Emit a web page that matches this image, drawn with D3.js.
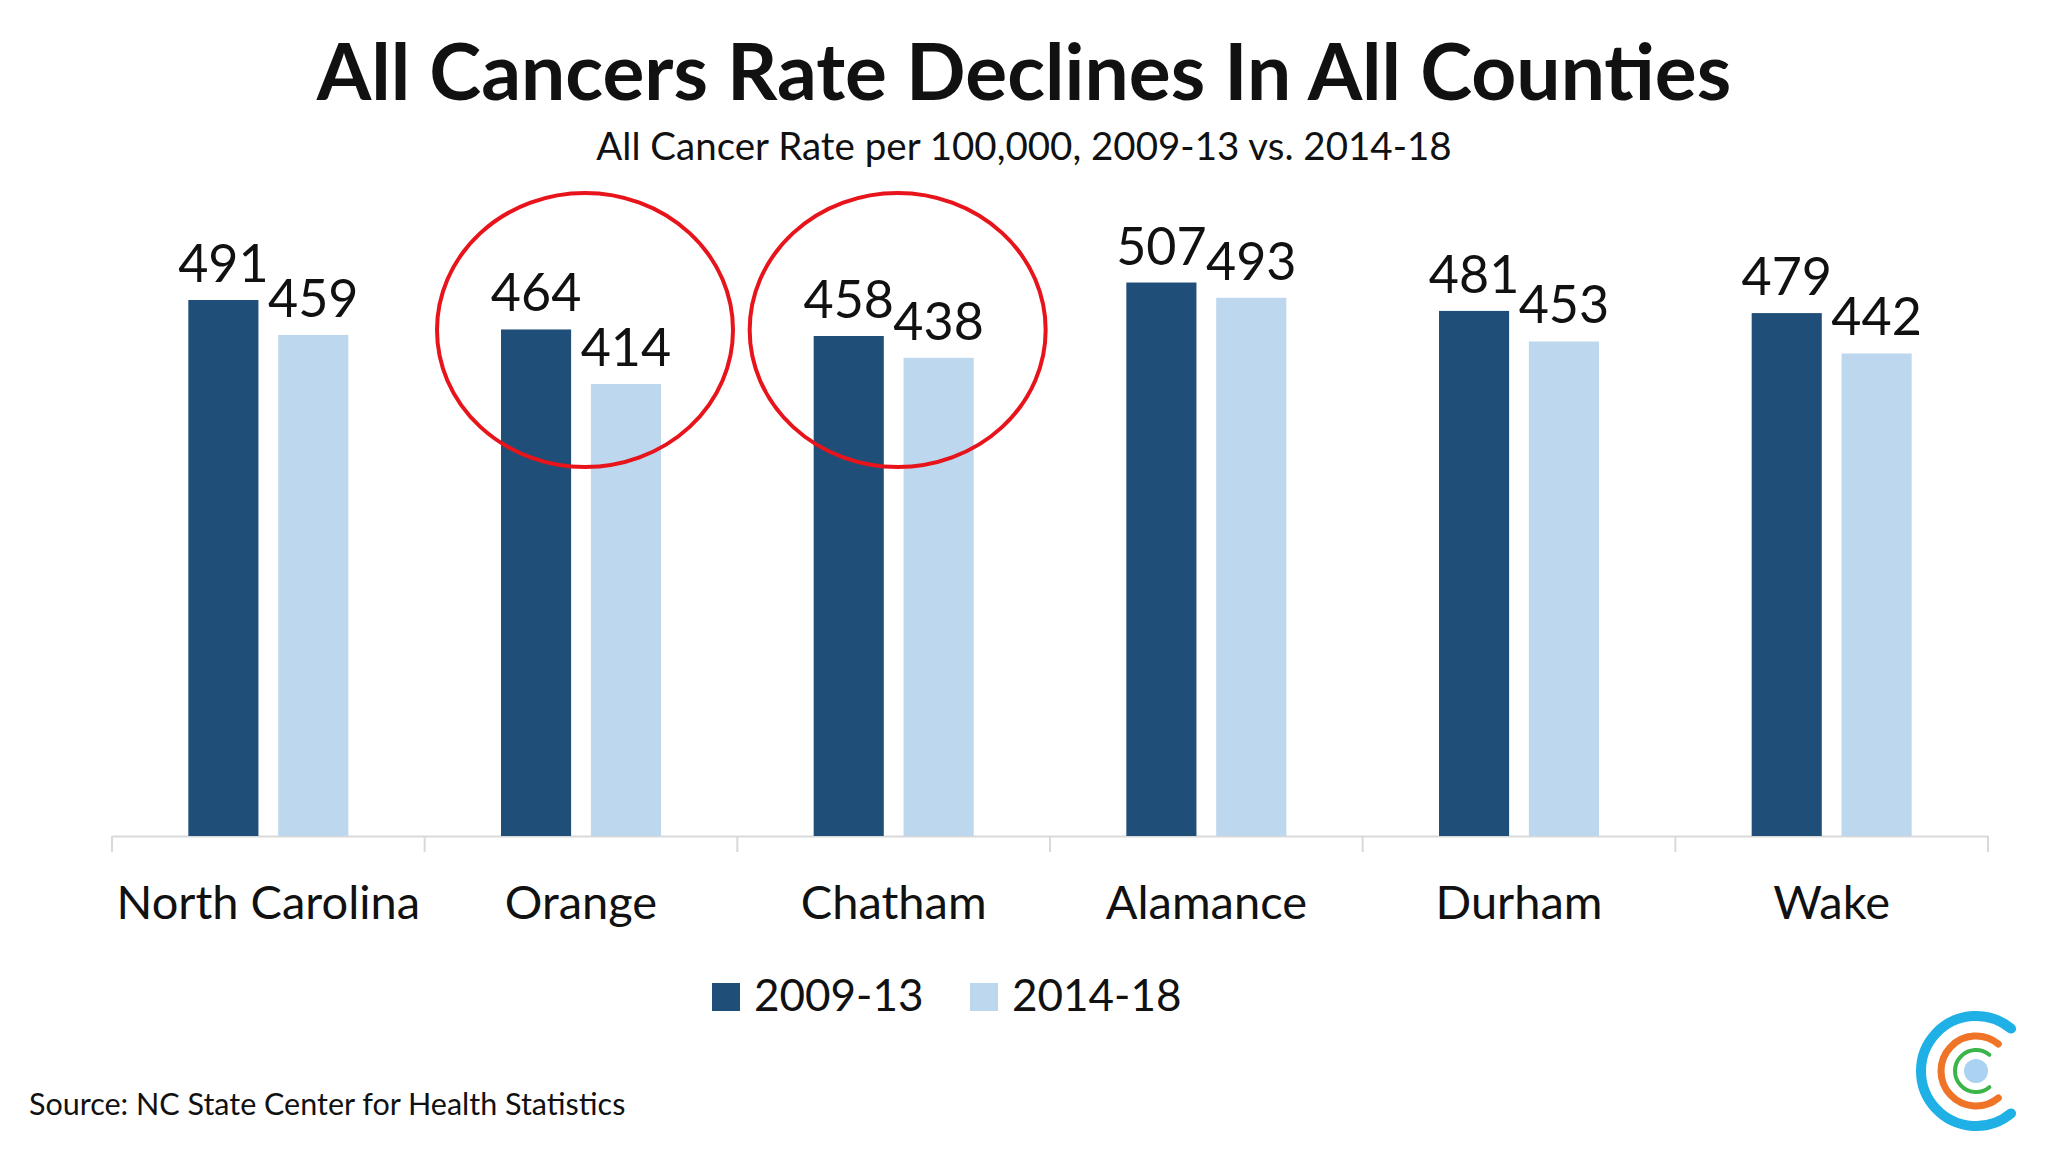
<!DOCTYPE html>
<html>
<head>
<meta charset="utf-8">
<script src="https://cdn.jsdelivr.net/npm/d3@7"></script>
<style>
  body { margin: 0; background: #fff; }
  text { font-family: Lato, "Open Sans", sans-serif; fill: #111; }
</style>
</head>
<body>
<div id="chart-area"></div>
<script>
// data
const counties = ["North Carolina", "Orange", "Chatham", "Alamance", "Durham", "Wake"];
const periods = ["2009-13", "2014-18"];
const rate0913 = [491, 464, 458, 507, 481, 479];
const rate1418 = [459, 414, 438, 493, 453, 442];
const circled = ["Orange", "Chatham"];

const W = 2048, H = 1152;
const colours = d3.scaleOrdinal().domain(periods).range(["#1f4e79", "#bdd7ee"]);

const svg = d3.select("#chart-area").append("svg")
  .attr("width", W).attr("height", H);

// title
svg.append("text")
  .attr("x", 1024).attr("y", 100)
  .attr("text-anchor", "middle")
  .style("font-size", "78.5px").style("font-weight", "bold")
  .text("All Cancers Rate Declines In All Counties");

svg.append("text")
  .attr("x", 1024).attr("y", 160)
  .attr("text-anchor", "middle")
  .style("font-size", "38.5px")
  .text("All Cancer Rate per 100,000, 2009-13 vs. 2014-18");

// scales
const x = d3.scaleBand().domain(counties).range([112, 1988]).padding(0);
const x1 = d3.scaleBand().domain(periods).range([x.bandwidth() / 2 - 80, x.bandwidth() / 2 + 80]).paddingInner(0.22);
const y = d3.scaleLinear().domain([0, 600]).range([836, 181]);

const rows = counties.map((c, i) => ({county: c, values: [
  {period: periods[0], v: rate0913[i]},
  {period: periods[1], v: rate1418[i]}
]}));

// x axis
const xaxis = svg.append("g")
  .attr("transform", "translate(0,836)")
  .call(d3.axisBottom(x).tickSize(0).tickPadding(50));
xaxis.select(".domain").attr("stroke", "#d9d9d9").attr("stroke-width", 2);
xaxis.selectAll("text")
  .style("font-size", "47px")
  .style("font-family", "Lato, 'Open Sans', sans-serif")
  .attr("fill", "#111");

// tick separators at band edges
const edges = counties.map(c => x(c)).concat([x(counties[counties.length - 1]) + x.bandwidth()]);
svg.append("g").selectAll("line")
  .data(edges)
  .join("line")
  .attr("x1", d => d).attr("x2", d => d)
  .attr("y1", 836).attr("y2", 852)
  .attr("stroke", "#d9d9d9").attr("stroke-width", 2);

// bars
const groups = svg.append("g").selectAll("g")
  .data(rows)
  .join("g")
  .attr("transform", d => `translate(${x(d.county)},0)`);

groups.selectAll("rect")
  .data(d => d.values)
  .join("rect")
  .attr("x", d => x1(d.period))
  .attr("y", d => y(d.v))
  .attr("width", x1.bandwidth())
  .attr("height", d => y(0) - y(d.v))
  .attr("fill", d => colours(d.period));

groups.selectAll("text.val")
  .data(d => d.values)
  .join("text")
  .attr("class", "val")
  .attr("x", d => x1(d.period) + x1.bandwidth() / 2)
  .attr("y", d => y(d.v) - 18)
  .attr("text-anchor", "middle")
  .style("font-size", "52px")
  .text(d => d.v);

// red circles
svg.append("g").selectAll("ellipse")
  .data(circled)
  .join("ellipse")
  .attr("cx", d => x(d) + x.bandwidth() / 2 + 4)
  .attr("cy", 330)
  .attr("rx", 148).attr("ry", 137)
  .attr("fill", "none")
  .attr("stroke", "#e8141b")
  .attr("stroke-width", 4);

// legend
const legend = svg.append("g").attr("transform", "translate(712,983)");
periods.forEach((p, i) => {
  const row = legend.append("g").attr("transform", `translate(${i * 258},0)`);
  row.append("rect").attr("width", 28).attr("height", 28).attr("fill", colours(p));
  row.append("text").attr("x", 42).attr("y", 28)
    .style("font-size", "44px").text(p);
});

// source
svg.append("text")
  .attr("x", 29).attr("y", 1115)
  .style("font-size", "30.5px")
  .attr("fill", "#222")
  .text("Source: NC State Center for Health Statistics");

// logo - arcs open to the right
const logo = svg.append("g").attr("transform", "translate(1976,1071)");
const arcRings = [
  {r: 55, w: 10, c: "#1fb1e6"},
  {r: 35, w: 7, c: "#ef7427"},
  {r: 21, w: 4, c: "#3bb54a"}
];
arcRings.forEach(a => {
  const p = d3.path();
  const a0 = -Math.PI * 0.28, a1 = Math.PI * 0.28;
  p.moveTo(a.r * Math.cos(a0), a.r * Math.sin(a0));
  p.arc(0, 0, a.r, a0, a1, true);
  logo.append("path")
    .attr("d", p.toString())
    .attr("fill", "none")
    .attr("stroke", a.c)
    .attr("stroke-width", a.w)
    .attr("stroke-linecap", "round");
});
logo.append("circle").attr("r", 12).attr("fill", "#a9d3f0");
</script>
</body>
</html>
